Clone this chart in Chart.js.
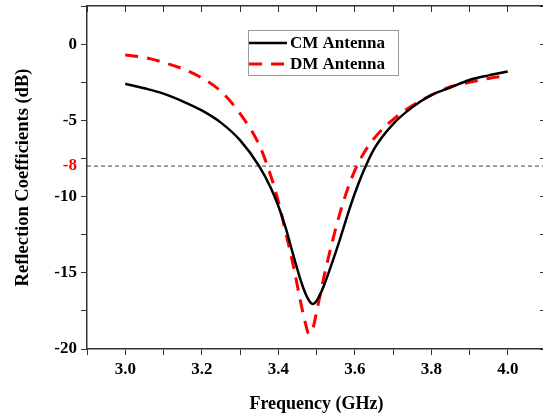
<!DOCTYPE html>
<html>
<head>
<meta charset="utf-8">
<script src="https://cdn.jsdelivr.net/npm/chart.js@4"></script>
<style>
  html, body { margin: 0; padding: 0; background: #fff; overflow: hidden; }
  #wrap { width: 550px; height: 415px; }
</style>
</head>
<body>
<div id="wrap"><canvas id="s11Chart"></canvas></div>
<script>
// frequency points (GHz)
const freq = [3.0, 3.05, 3.1, 3.15, 3.2, 3.25, 3.3, 3.35, 3.38, 3.4, 3.42, 3.44, 3.46, 3.47, 3.48, 3.49,
              3.5, 3.51, 3.52, 3.54, 3.56, 3.58, 3.6, 3.62, 3.65, 3.7, 3.75, 3.8, 3.85, 3.9, 3.95, 4.0];
// reflection coefficients (dB)
const cmDb = [-2.6, -2.9, -3.25, -3.75, -4.35, -5.15, -6.3, -8.0, -9.4, -10.6, -12.1, -13.9, -15.6, -16.3, -16.8, -17.05,
              -16.85, -16.4, -15.8, -14.4, -12.9, -11.3, -9.8, -8.5, -6.9, -5.25, -4.15, -3.35, -2.85, -2.35, -2.05, -1.8];
const dmDb = [-0.72, -0.88, -1.2, -1.62, -2.22, -3.1, -4.55, -6.6, -8.6, -10.3, -12.4, -14.6, -17.1, -18.2, -19.0, -18.7,
              -17.6, -16.4, -15.2, -13.1, -11.2, -9.6, -8.3, -7.3, -6.2, -4.95, -4.05, -3.35, -2.8, -2.5, -2.25, -2.07];
const seriesNames = ['CM Antenna', 'DM Antenna'];
const threshold = -8;
const xRange = [2.9, 4.1];
const yRange = [-20, 2.5];

const FONT = "'Liberation Serif', 'Times New Roman', serif";
const pts = arr => freq.map((f, i) => ({ x: f, y: arr[i] }));
const noPad = s => { s.paddingTop = 0; s.paddingBottom = 0; s.paddingLeft = 0; s.paddingRight = 0; };

// legend box drawn inside the plot
const boxLegend = {
    id: 'boxLegend',
    afterDraw(chart) {
        const ctx = chart.ctx;
        const x0 = 248, y0 = 30, w = 150, h = 45;
        ctx.save();
        ctx.fillStyle = '#fff';
        ctx.fillRect(x0, y0, w, h);
        ctx.strokeStyle = '#999';
        ctx.lineWidth = 1;
        ctx.strokeRect(x0 + 0.5, y0 + 0.5, w, h);
        ctx.font = 'bold 17px ' + FONT;
        ctx.textBaseline = 'middle';
        ctx.fillStyle = '#000';
        [0, 1].forEach(i => {
            const ds = chart.data.datasets[i];
            const yy = y0 + 13 + i * 21;
            ctx.strokeStyle = ds.borderColor;
            ctx.lineWidth = ds.borderWidth;
            ctx.setLineDash(ds.borderDash || []);
            ctx.beginPath();
            ctx.moveTo(x0 + 1, yy);
            ctx.lineTo(x0 + 39, yy);
            ctx.stroke();
            ctx.setLineDash([]);
            ctx.fillText(ds.label, x0 + 42, yy + 1);
        });
        ctx.restore();
    }
};

new Chart(document.getElementById('s11Chart'), {
    type: 'line',
    data: {
        datasets: [{
            label: seriesNames[0],
            data: pts(cmDb),
            borderColor: '#000',
            borderWidth: 2.5,
            pointRadius: 0,
            cubicInterpolationMode: 'monotone'
        }, {
            label: seriesNames[1],
            data: pts(dmDb),
            borderColor: '#f00',
            borderWidth: 3,
            borderDash: [13, 9],
            pointRadius: 0,
            cubicInterpolationMode: 'monotone'
        }, {
            label: 'threshold',
            data: xRange.map(x => ({ x: x, y: threshold })),
            borderColor: '#444',
            borderWidth: 1,
            borderDash: [4, 3],
            pointRadius: 0
        }]
    },
    options: {
        responsive: true,
        maintainAspectRatio: false,
        animation: false,
        layout: { padding: { top: 6, right: 4, left: 0, bottom: 0 } },
        plugins: { legend: { display: false }, tooltip: { enabled: false } },
        scales: {
            x: {
                type: 'linear',
                min: xRange[0], max: xRange[1],
                afterFit: s => { s.height = 66; noPad(s); },
                border: { color: '#333', width: 1.5 },
                grid: { drawOnChartArea: false, tickLength: 6, tickColor: '#333' },
                ticks: {
                    stepSize: 0.1, autoSkip: false, maxRotation: 0, padding: 4,
                    color: '#000', font: { family: FONT, size: 17, weight: 'bold' },
                    callback: v => {
                        const k = Math.round(v * 10);
                        return (k % 2 === 0 && k >= 30 && k <= 40) ? (k / 10).toFixed(1) : '';
                    }
                },
                title: {
                    display: true, text: 'Frequency (GHz)', color: '#000',
                    font: { family: FONT, size: 18, weight: 'bold' },
                    padding: { top: 4, bottom: 0 }
                }
            },
            y: {
                type: 'linear',
                min: yRange[0], max: yRange[1],
                afterFit: s => { s.width = 87; noPad(s); },
                afterBuildTicks: s => {
                    s.ticks.push({ value: threshold });
                    s.ticks.sort((a, b) => a.value - b.value);
                },
                border: { color: '#333', width: 1.5 },
                grid: {
                    drawOnChartArea: false, tickLength: 6,
                    tickColor: c => (c.tick && c.tick.value === threshold) ? 'rgba(0,0,0,0)' : '#333'
                },
                ticks: {
                    stepSize: 2.5, autoSkip: false, padding: 4,
                    font: { family: FONT, size: 17, weight: 'bold' },
                    color: c => (c.tick && c.tick.value === threshold) ? '#f00' : '#000',
                    callback: v => (v === threshold || v % 5 === 0) ? String(v) : ''
                },
                title: {
                    display: true, text: 'Reflection Coefficients (dB)', color: '#000',
                    font: { family: FONT, size: 18.5, weight: 'bold' },
                    padding: { top: 12, bottom: 0 }
                }
            },
            x2: {
                type: 'linear', position: 'top',
                min: xRange[0], max: xRange[1],
                afterFit: s => { s.height = 0; noPad(s); },
                border: { color: '#333', width: 1.5 },
                grid: { drawOnChartArea: false, tickLength: -6, tickColor: '#333' },
                ticks: { display: false, stepSize: 0.1 }
            },
            y2: {
                type: 'linear', position: 'right',
                min: yRange[0], max: yRange[1],
                afterFit: s => { s.width = 0; noPad(s); },
                border: { color: '#333', width: 1.5 },
                grid: { drawOnChartArea: false, tickLength: -6, tickColor: '#333' },
                ticks: { display: false, stepSize: 2.5 }
            }
        }
    },
    plugins: [boxLegend]
});
</script>
</body>
</html>
